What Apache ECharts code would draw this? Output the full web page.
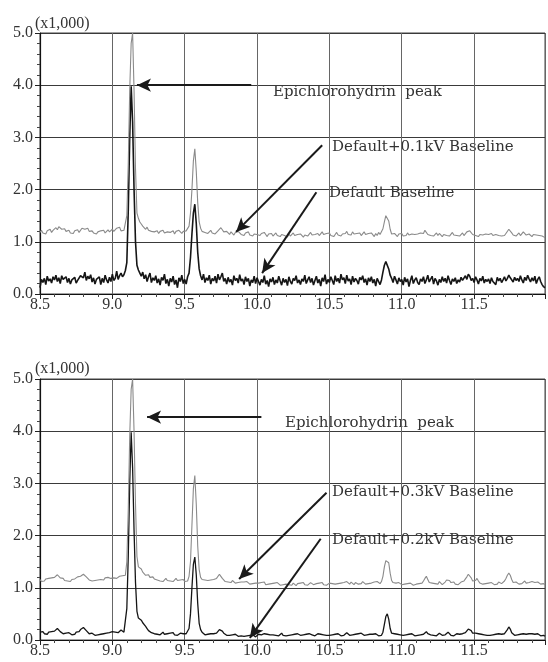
<!DOCTYPE html>
<html>
<head>
<meta charset="utf-8">
<script src="https://cdn.jsdelivr.net/npm/echarts@6/dist/echarts.min.js"></script>
<style>
  html, body { margin: 0; padding: 0; background: #fff; }
  #chart { width: 548px; height: 662px; }
</style>
</head>
<body>
<div id="chart"></div>
<script>
// retention time grid (min): 8.50 .. 11.99, sampled every 0.01
const tStart = 8.5;
const tStep = 0.01;

// intensities in units of 0.01 x1,000 (one row = 0.1 min)
// upper panel: Default+0.1kV baseline (gray)
const top01kV = [
  118,122,117,120,115,121,119,124,118,122,
  125,127,123,129,126,124,121,125,120,118,
  122,117,120,116,121,119,123,118,121,126,
  128,124,122,126,120,118,121,117,120,115,
  119,116,121,118,122,117,120,123,119,121,
  124,120,122,126,123,128,121,119,122,125,
  150,250,390,480,500,390,240,155,145,138,
  134,130,127,124,128,122,125,120,123,119,
  117,121,116,120,118,122,117,114,119,121,
  118,116,121,115,120,117,122,119,116,120,
  118,121,122,130,155,200,255,278,235,175,
  138,126,120,123,118,121,116,119,122,117,
  120,115,118,121,124,127,123,119,116,120,
  117,114,119,116,113,118,115,120,117,114,
  116,112,117,115,119,113,116,111,115,118,
  114,117,112,116,113,118,114,110,115,112,
  116,111,114,117,112,115,110,114,116,112,
  113,109,115,111,114,117,112,110,114,111,
  115,112,109,113,116,111,114,118,113,110,
  114,111,116,112,115,119,114,111,116,113,
  117,112,115,110,114,118,113,116,111,115,
  112,116,120,114,117,113,119,115,112,116,
  113,117,112,115,119,114,111,116,113,117,
  114,110,116,112,118,114,117,125,138,150,
  152,140,124,115,112,116,113,110,115,112,
  116,111,114,112,117,113,110,115,112,114,
  111,115,113,117,120,116,122,119,114,116,
  112,115,111,114,117,112,116,113,110,114,
  117,112,115,111,114,118,113,116,112,115,
  111,114,117,112,115,119,116,121,118,114,
  116,112,115,110,114,117,113,111,115,112,
  114,111,116,112,110,114,117,112,115,111,
  114,112,116,119,124,121,117,113,115,111,
  114,117,112,115,119,116,113,111,115,112,
  110,114,117,113,110,112,115,111,109,108
];

// upper panel: Default baseline (black)
const topDefault = [
  12,28,22,30,18,34,25,29,21,33,
  27,36,24,31,20,35,28,26,33,22,
  30,19,27,24,32,21,26,29,35,38,
  31,42,26,34,29,37,23,31,19,28,
  25,33,18,30,22,36,27,21,32,24,
  38,26,30,44,28,35,40,33,37,45,
  60,160,300,398,330,200,100,55,46,40,
  34,42,29,37,24,33,40,22,31,26,
  35,21,29,17,32,26,38,20,28,15,
  30,23,34,18,27,12,31,24,36,20,
  28,19,33,40,70,115,155,172,135,80,
  48,35,27,38,22,31,26,36,19,30,
  25,34,21,38,27,33,40,24,30,19,
  32,23,28,17,35,26,30,21,37,25,
  29,18,33,24,30,15,27,22,34,20,
  31,24,17,28,22,35,19,26,14,29,
  23,32,18,27,21,34,25,17,30,22,
  28,16,33,24,19,30,26,35,21,27,
  18,29,24,36,20,27,33,22,30,17,
  26,34,21,28,15,31,24,37,19,28,
  22,33,26,18,35,24,30,21,38,27,
  31,20,36,25,29,18,34,23,30,26,
  19,32,27,35,22,29,17,31,24,33,
  21,28,15,30,24,18,27,42,55,62,
  60,48,36,30,22,34,27,19,31,24,
  28,17,32,23,29,14,26,35,20,27,
  31,22,18,29,24,33,20,27,36,23,
  26,34,19,30,25,17,28,22,33,24,
  30,21,35,26,18,29,24,31,20,27,
  23,32,26,29,35,28,38,34,26,30,
  22,33,27,19,30,25,34,21,28,24,
  29,20,31,24,27,18,32,25,30,22,
  27,33,25,30,36,31,28,23,32,26,
  30,24,35,27,21,32,26,36,29,23,
  31,25,34,20,28,33,24,18,14,12
];

// lower panel: Default+0.3kV baseline (gray)
const bot03kV = [
  116,112,115,113,117,114,118,115,119,121,
  120,123,125,122,119,116,118,114,117,113,
  115,112,116,114,117,119,121,124,122,125,
  126,123,121,118,115,117,113,111,114,112,
  115,113,116,118,115,119,117,120,122,118,
  121,119,116,118,120,122,119,123,121,124,
  150,250,390,480,500,400,260,160,140,142,
  136,130,127,124,121,125,120,118,121,117,
  119,115,118,113,116,112,115,118,114,117,
  113,116,112,115,118,114,111,115,113,116,
  112,115,113,122,150,220,290,315,260,180,
  135,120,116,113,115,112,114,111,115,113,
  116,114,118,121,126,122,118,115,112,114,
  111,113,110,114,112,109,112,110,113,111,
  108,111,109,112,110,107,110,108,111,109,
  106,109,107,110,108,111,106,109,107,105,
  108,106,109,107,110,108,105,108,106,109,
  107,110,106,108,105,109,107,104,108,106,
  109,107,110,106,108,105,107,110,108,106,
  105,108,106,109,107,110,106,108,105,107,
  109,106,108,105,107,110,108,106,109,107,
  110,108,112,109,107,111,108,106,110,108,
  107,110,108,112,109,107,110,108,111,109,
  108,111,109,112,110,108,112,122,140,152,
  155,148,128,114,110,112,109,107,110,108,
  106,109,107,110,108,106,109,107,105,108,
  107,110,108,111,109,113,118,122,116,110,
  107,109,106,108,110,107,112,109,106,108,
  111,115,118,114,110,108,111,107,109,106,
  108,111,109,113,117,121,126,124,119,113,
  110,114,118,113,109,111,107,110,108,106,
  109,107,110,108,106,109,107,111,109,108,
  110,113,118,124,128,124,116,110,108,111,
  109,107,110,108,111,113,109,107,110,108,
  112,114,110,108,111,109,107,110,108,106
];

// lower panel: Default+0.2kV baseline (black)
const bot02kV = [
  15,13,16,12,14,11,15,13,16,14,
  17,19,22,20,16,13,12,10,13,11,
  14,12,10,13,11,15,13,16,20,22,
  24,21,18,15,12,10,13,11,9,12,
  10,13,11,14,12,15,13,11,14,12,
  16,18,15,17,14,16,19,17,15,18,
  60,160,300,398,330,210,110,55,42,40,
  38,33,30,26,22,18,16,14,15,12,
  14,11,13,10,12,15,11,9,12,10,
  13,11,14,10,12,9,11,13,10,12,
  10,12,14,22,50,100,145,159,125,70,
  32,20,15,12,10,13,11,9,12,10,
  12,10,13,15,20,23,17,13,11,9,
  11,9,12,10,8,11,9,7,10,8,
  9,7,10,8,11,9,7,10,8,6,
  9,11,8,10,7,12,9,11,8,10,
  7,10,12,9,11,8,10,13,9,11,
  8,11,9,12,10,13,11,9,12,10,
  9,12,10,13,11,9,12,14,10,11,
  8,10,12,9,11,8,10,12,9,11,
  9,7,10,8,11,9,12,10,8,11,
  9,12,14,11,9,12,10,8,11,9,
  12,10,13,11,9,12,10,8,11,9,
  11,9,12,10,8,11,9,15,30,45,
  50,40,22,13,10,12,9,11,8,10,
  12,9,7,10,8,11,9,12,10,8,
  11,9,12,10,8,11,13,16,12,9,
  10,12,9,11,8,10,13,11,9,12,
  10,13,15,12,9,11,8,10,12,9,
  11,9,12,10,14,17,21,23,18,13,
  11,13,16,12,9,11,8,10,12,9,
  11,9,12,10,8,11,9,12,10,11,
  10,12,15,20,25,21,14,11,9,12,
  10,8,11,9,12,14,11,9,12,10,
  12,15,11,9,12,10,8,11,9,7
];

const xTicks = [8.5, 9.0, 9.5, 10.0, 10.5, 11.0, 11.5];
const yTicks = [0, 100, 200, 300, 400, 500];

// annotation arrows, [from, to] in data units
const topArrows = [
  [[9.96, 400], [9.17, 400]],
  [[10.45, 285], [9.855, 119]],
  [[10.41, 195], [10.035, 40]]
];
const botArrows = [
  [[10.03, 427], [9.24, 427]],
  [[10.48, 282], [9.876, 117]],
  [[10.44, 194], [9.95, 4]]
];

const toPairs = arr => arr.map((v, i) => [+(tStart + i * tStep).toFixed(2), v]);

const labelFont = { fontFamily: '"Liberation Serif", serif', fontSize: 16, color: '#333' };
const noteFont = '15px "DejaVu Serif", serif';

function makeX(gridIndex) {
  return {
    type: 'value', gridIndex,
    min: 8.5, max: 11.99, interval: 0.5,
    axisLine: { show: true, lineStyle: { color: '#111', width: 1.2 } },
    axisTick: { show: true, length: 5, lineStyle: { color: '#222' } },
    minorTick: { show: true, splitNumber: 5, length: 3, lineStyle: { color: '#444' } },
    splitLine: { show: true, lineStyle: { color: '#666', width: 1 } },
    axisLabel: Object.assign({
      margin: 3,
      formatter: v => (xTicks.some(t => Math.abs(t - v) < 1e-6) ? v.toFixed(1) : '')
    }, labelFont)
  };
}

function makeY(gridIndex) {
  return {
    type: 'value', gridIndex,
    min: 0, max: 500, interval: 100,
    axisLine: { show: true, lineStyle: { color: '#111', width: 1.2 } },
    axisTick: { show: true, length: 5, lineStyle: { color: '#222' } },
    minorTick: { show: true, splitNumber: 5, length: 3, lineStyle: { color: '#444' } },
    splitLine: { show: true, lineStyle: { color: '#3a3a3a', width: 1 } },
    axisLabel: Object.assign({
      margin: 7,
      formatter: v => (yTicks.includes(v) ? (v / 100).toFixed(1) : '')
    }, labelFont)
  };
}

function arrowMarks(list) {
  return {
    silent: true,
    symbol: ['none', 'arrow'],
    symbolSize: [10, 14],
    label: { show: false },
    lineStyle: { color: '#1a1a1a', width: 2, type: 'solid' },
    emphasis: { disabled: true },
    animation: false,
    data: list.map(a => [{ coord: a[0] }, { coord: a[1] }])
  };
}

function trace(name, data, idx, color, width, marks) {
  const s = {
    name, type: 'line', xAxisIndex: idx, yAxisIndex: idx,
    data: toPairs(data),
    showSymbol: false, symbol: 'none',
    lineStyle: { color, width },
    emphasis: { disabled: true },
    clip: true
  };
  if (marks) s.markLine = marks;
  return s;
}

function note(text, x, y, font) {
  return {
    type: 'text', x, y, silent: true,
    style: { text, font: font || noteFont, fill: '#333', verticalAlign: 'middle' }
  };
}

const chart = echarts.init(document.getElementById('chart'));
chart.setOption({
  animation: false,
  backgroundColor: '#fff',
  grid: [
    { left: 40, top: 33, width: 507, height: 261, show: true, borderColor: '#444', borderWidth: 1 },
    { left: 40, top: 379, width: 507, height: 261, show: true, borderColor: '#444', borderWidth: 1 }
  ],
  xAxis: [makeX(0), makeX(1)],
  yAxis: [makeY(0), makeY(1)],
  series: [
    trace('Default Baseline', topDefault, 0, '#151515', 1.6, arrowMarks(topArrows)),
    trace('Default+0.1kV Baseline', top01kV, 0, '#8a8a8a', 1.1),
    trace('Default+0.2kV Baseline', bot02kV, 1, '#151515', 1.3, arrowMarks(botArrows)),
    trace('Default+0.3kV Baseline', bot03kV, 1, '#8a8a8a', 1.1)
  ],
  graphic: [
    note('(x1,000)', 35, 24, '16px "Liberation Serif", serif'),
    note('Epichlorohydrin  peak', 273, 92),
    note('Default+0.1kV Baseline', 332, 147),
    note('Default Baseline', 329, 193),
    note('(x1,000)', 35, 369, '16px "Liberation Serif", serif'),
    note('Epichlorohydrin  peak', 285, 423),
    note('Default+0.3kV Baseline', 332, 492),
    note('Default+0.2kV Baseline', 332, 540)
  ]
});
</script>
</body>
</html>
